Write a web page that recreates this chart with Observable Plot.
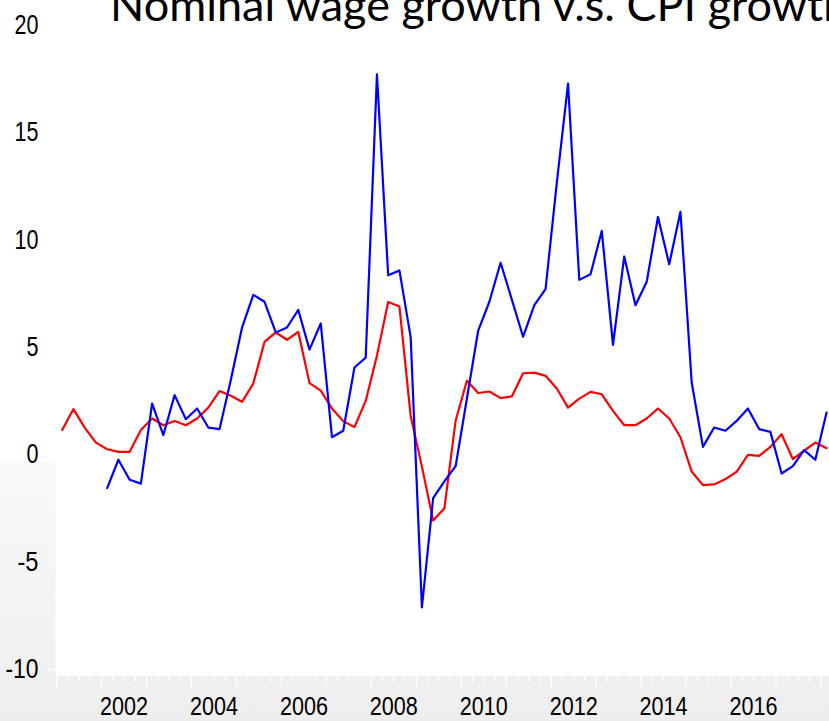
<!DOCTYPE html>
<html>
<head>
<meta charset="utf-8">
<script src="https://cdn.jsdelivr.net/npm/d3@7"></script>
<script src="https://cdn.jsdelivr.net/npm/@observablehq/plot@0.6"></script>
<style>
  html, body { margin: 0; padding: 0; }
  body {
    width: 829px; height: 721px; overflow: hidden; position: relative;
    background: linear-gradient(to bottom, #ffffff 0px, #ffffff 461px, #f9f9f9 463px, #eeeeee 721px);
  }
  #title {
    position: absolute; left: 110px; top: -18px; white-space: nowrap;
    font-family: Lato, "Open Sans", sans-serif; font-size: 45px; line-height: 45px; color: #000;
  }
  #chart { position: absolute; left: 0; top: 0; }
</style>
</head>
<body>
<div id="chart"></div>
<div id="title">Nominal wage growth v.s. CPI growth</div>
<script>
// Quarterly series, first observation of CPI = 2001Q1, wage = 2002Q1
const cpiStartYear = 2001;
const wageStartYear = 2002;
const cpiGrowth = [
  1.44, 2.41, 1.55, 0.85,
  0.54, 0.42, 0.42, 1.44,
  1.97, 1.66, 1.86, 1.66,
  1.97, 2.48, 3.25, 3.03,
  2.75, 3.60, 5.54, 5.98,
  5.64, 6.01, 3.62, 3.27,
  2.44, 1.85, 1.57, 2.79,
  4.90, 7.40, 7.19, 2.09,
  -0.27, -2.78, -2.21, 1.87,
  3.73, 3.16, 3.23, 2.92,
  3.00, 4.08, 4.11, 3.96,
  3.37, 2.48, 2.90, 3.21,
  3.10, 2.33, 1.66, 1.66,
  1.97, 2.44, 1.97, 1.10,
  -0.50, -1.13, -1.10, -0.85,
  -0.51, 0.28, 0.23, 0.65,
  1.24, 0.08, 0.47, 0.85,
  0.59
];
const wageGrowth = [
  -1.27, 0.05, -0.88, -1.06,
  2.67, 1.20, 3.06, 1.94,
  2.44, 1.55, 1.48, 3.77,
  6.21, 7.73, 7.41, 5.98,
  6.21, 7.03, 5.18, 6.40,
  1.10, 1.40, 4.35, 4.81,
  18.00, 8.64, 8.87, 5.76,
  -6.83, -1.74, -0.96, -0.25,
  2.89, 6.05, 7.41, 9.23,
  7.51, 5.78, 7.25, 8.00,
  12.95, 17.57, 8.43, 8.69,
  10.71, 5.40, 9.52, 7.25,
  8.34, 11.36, 9.16, 11.60,
  3.65, 0.65, 1.55, 1.40,
  1.86, 2.44, 1.48, 1.35,
  -0.59, -0.25, 0.50, 0.05,
  2.25
];
const yTicks = [-10, -5, 0, 5, 10, 15, 20];
const yearLabels = [2002, 2004, 2006, 2008, 2010, 2012, 2014, 2016];

const cpiData = cpiGrowth.map((v, i) => ({t: cpiStartYear + i / 4 + 0.125, v}));
const wageData = wageGrowth.map((v, i) => ({t: wageStartYear + i / 4 + 0.125, v}));

const quarterTicks = d3.range(2001, 2018.3, 0.25);
const yearTicks = d3.range(2001, 2019, 1);
const labelTicks = yearLabels.map(y => y + 0.5);

const axisFont = '"Liberation Sans", Arial, sans-serif';

const chart = Plot.plot({
  width: 829,
  height: 721,
  marginLeft: 55,
  marginRight: 0,
  marginTop: 31,
  marginBottom: 46,
  style: {background: "transparent", fontFamily: axisFont, fontSize: "27px", color: "black", overflow: "visible"},
  x: {domain: [2000.976, 2018.19]},
  y: {domain: [-10, 20]},
  marks: [
    Plot.frame({fill: "white", stroke: null}),
    Plot.axisY({ticks: yTicks, tickSize: 8, stroke: "white", tickPadding: 9, dy: -6, fontSize: 27, label: null, tickFormat: d => String(d)}),
    Plot.axisX({ticks: quarterTicks, tickSize: 8, stroke: "white", tickFormat: () => "", label: null}),
    Plot.axisX({ticks: yearTicks, tickSize: 13, stroke: "white", tickFormat: () => "", label: null}),
    Plot.axisX({ticks: labelTicks, tickSize: 0, tickPadding: 21, fontSize: 26, label: null, tickFormat: d => String(Math.floor(d))}),
    Plot.line(cpiData, {x: "t", y: "v", stroke: "#ff0000", strokeWidth: 2.2}),
    Plot.line(wageData, {x: "t", y: "v", stroke: "#0000ff", strokeWidth: 2.2})
  ]
});
document.getElementById("chart").appendChild(chart);

// Narrow (Arial Narrow-like) tick labels: compress glyph widths
chart.querySelectorAll('g[aria-label$="tick label"] text').forEach(t => {
  const s = t.textContent;
  if (!s) return;
  const w = Array.from(s).reduce((a, ch) => a + (ch === "-" ? 9 : 12), 0);
  t.setAttribute("textLength", w);
  t.setAttribute("lengthAdjust", "spacingAndGlyphs");
});
</script>
</body>
</html>
